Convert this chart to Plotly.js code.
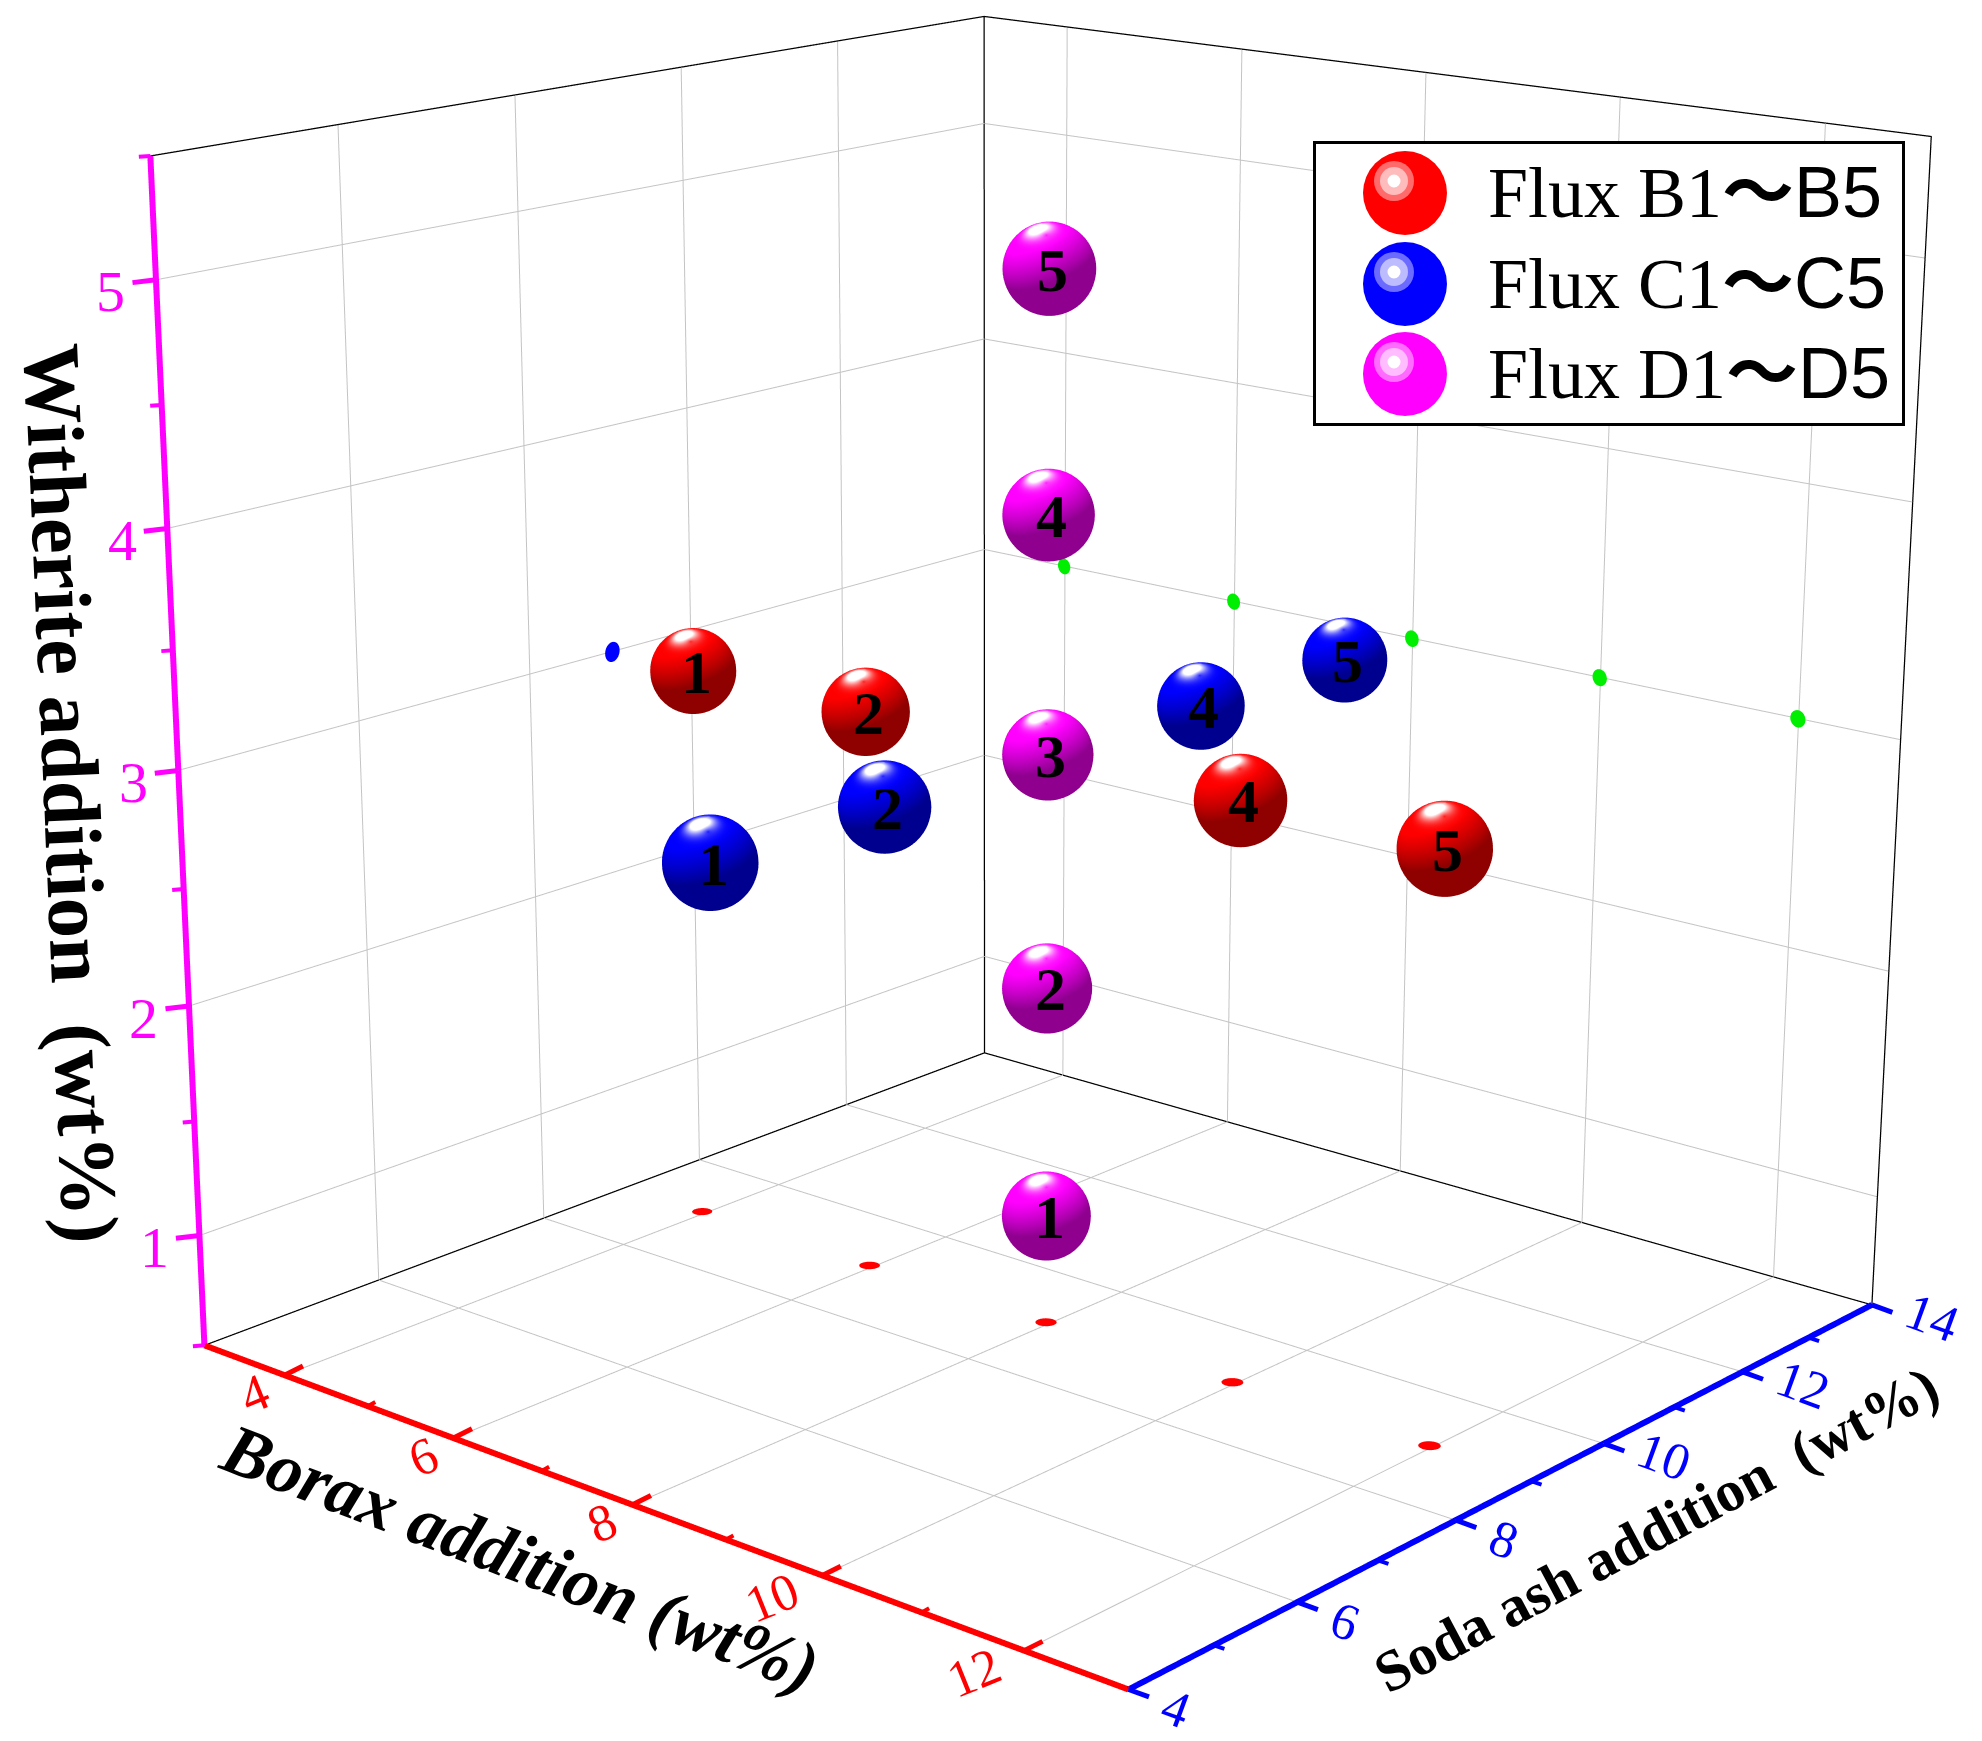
<!DOCTYPE html>
<html><head><meta charset="utf-8">
<script src="https://cdn.plot.ly/plotly-3.0.1.min.js"></script>
<style>html,body{margin:0;padding:0;background:#fff;overflow:hidden}
#g{position:absolute;left:0;top:0;width:1982px;height:1741px}
#leg{position:absolute;left:1313px;top:141px;width:592px;height:285px;z-index:5}</style>
</head><body><div id="g"></div><div id="leg"></div>
<script>
// ---- data ----
const boraxTicks=[4,6,8,10,12];
const sodaTicks=[4,6,8,10,12,14];
const witheriteTicks=[1,2,3,4,5];
const fluxB_borax=[4,6,8,10,12];
const fluxB_soda=[9,9,9,9,9];
const fluxB_witherite=[3,3,3,3,3];
const fluxB_labels=['1','2','','4','5'];
const fluxC_borax=[8,8,8,8,8];
const fluxC_soda=[5,7,9,11,13];
const fluxC_witherite=[3,3,3,3,3];
const fluxC_labels=['1','2','','4','5'];
const fluxD_borax=[8,8,8,8,8];
const fluxD_soda=[9,9,9,9,9];
const fluxD_witherite=[1,2,3,4,5];
const fluxD_labels=['1','2','3','4','5'];
const legendNames=['B','C','D'];
const legendColors=['#ff0000','#0000ff','#ff00ff'];

// ---- view ----
const XR=[3,13],YR=[4,14],ZR=[0.5,5.5];
const ASPECT={x:1.01,y:1,z:1.01};
const FOV=0.3150;
const CENTER={x:-0.0169,y:-0.0517,z:-0.0907};
const EYEDIR={x:0.627,y:-0.7213,z:0.2946}, DIST=4.5;
const R=0.0375;
const SERIF='Liberation Serif';
const EPS=0.012;
const x0=XR[0]+EPS,x1=XR[1]-EPS,y0=YR[0]+EPS,y1=YR[1]-EPS,z0=ZR[0]+EPS,z1=ZR[1]-EPS;

function sphere(xs,ys,zs,f,color,extra,flat){
  const X=[],Y=[],Z=[],I=[],J=[],K=[];
  const n=28,m=44;
  const rx=f*(XR[1]-XR[0])/ASPECT.x*(flat==='x'?0.001:1);
  const ry=f*(YR[1]-YR[0])/ASPECT.y*(flat==='y'?0.001:1);
  const rz=f*(ZR[1]-ZR[0])/ASPECT.z*(flat==='z'?0.001:1);
  xs.forEach((cx,p)=>{
    const b=X.length;
    for(let a=0;a<=n;a++){const t=Math.PI*a/n;
      for(let c=0;c<m;c++){const u=2*Math.PI*c/m;
        X.push(cx+rx*Math.sin(t)*Math.cos(u));
        Y.push(ys[p]+ry*Math.sin(t)*Math.sin(u));
        Z.push(zs[p]+rz*Math.cos(t));}}
    for(let a=0;a<n;a++)for(let c=0;c<m;c++){
      const q=b+a*m+c,r=b+a*m+(c+1)%m,s=q+m,w=r+m;
      I.push(q,r);J.push(s,s);K.push(r,w);}
  });
  return Object.assign({type:'mesh3d',x:X,y:Y,z:Z,i:I,j:J,k:K,color:color,hoverinfo:'skip',showscale:false},extra);
}
const shiny={lighting:{ambient:0.56,diffuse:0.62,specular:2,roughness:0.27,fresnel:0.2},lightposition:{x:-3.8,y:3.29,z:0.9935}};
const matte={lighting:{ambient:1,diffuse:0,specular:0,roughness:1,fresnel:0}};
function seg(x,y,z,c,w){return {type:'scatter3d',mode:'lines',x,y,z,line:{color:c,width:w},hoverinfo:'skip',showlegend:false,connectgaps:false};}
// grid lines on the three back walls, from the tick lists
const gx=[],gy=[],gz=[];
function gl(a,b){gx.push(a[0],b[0],null);gy.push(a[1],b[1],null);gz.push(a[2],b[2],null);}
boraxTicks.forEach(v=>{gl([v,y0,z0],[v,y1,z0]);gl([v,y1,z0],[v,y1,z1]);});
sodaTicks.slice(1,-1).forEach(v=>{gl([x0,v,z0],[x1,v,z0]);gl([x0,v,z0],[x0,v,z1]);});
witheriteTicks.forEach(v=>{gl([x0,y0,v],[x0,y1,v]);gl([x0,y1,v],[x1,y1,v]);});

const traces=[
  seg(gx,gy,gz,'#c4c4c4',2),
  seg([x0,x0,x1,x1],[y0,y1,y1,y1],[z1,z1,z1,z0],'#000',2.5),
  seg([x0,x0,x1],[y0,y1,y1],[z0,z0,z0],'#000',2.5),
  seg([x0,x0],[y1,y1],[z0,z1],'#000',2.5),
  seg([x0,x1],[y0,y0],[z0,z0],'#ff0000',12),
  seg([x1,x1],[y0,y1],[z0,z0],'#0000ff',12),
  seg([x0,x0],[y0,y0],[z0,z1],'#ff00ff',12),
  sphere(fluxB_borax,fluxB_soda,fluxB_borax.map(()=>z0+EPS),R*0.24,'#ff0000',matte,'z'),
  sphere(fluxB_borax,fluxB_borax.map(()=>y1-EPS),fluxB_witherite,R*0.2,'#00ee00',matte,'y'),
  sphere([x0+EPS],[fluxB_soda[0]],[fluxB_witherite[0]],R*0.24,'#0000ff',matte,'x'),
  sphere(fluxB_borax,fluxB_soda,fluxB_witherite,R*0.995,'#ff0000',shiny),
  sphere(fluxC_borax,fluxC_soda,fluxC_witherite,R*0.99,'#0000ff',shiny),
  sphere(fluxD_borax,fluxD_soda,fluxD_witherite,R,'#ff00ff',shiny)
];

// ---- annotations anchored in data space ----
const ann=[];
function label(x,y,z,t,o){ann.push(Object.assign({x,y,z,text:t,showarrow:false,font:{family:SERIF,size:62,color:'#000'}},o||{}));}
function stub(x,y,z,ax,ay,c,w){ann.push({x,y,z,text:'',showarrow:true,arrowhead:0,arrowcolor:c,arrowwidth:w,ax,ay,standoff:0,startstandoff:0});}
[[fluxB_borax,fluxB_soda,fluxB_witherite,fluxB_labels],[fluxC_borax,fluxC_soda,fluxC_witherite,fluxC_labels],[fluxD_borax,fluxD_soda,fluxD_witherite,fluxD_labels]].forEach(s=>{
  s[0].forEach((x,i)=>{ if(s[3][i]) label(x,s[1][i],s[2][i],'<b>'+s[3][i]+'</b>',{xshift:3,yshift:-1}); });
});
const red='#ff0000',blue='#0000ff',mag='#ff00ff';
boraxTicks.forEach(v=>{
  stub(v,y0,z0,20,-10,red,5);
  const wide=v>=10;
  label(v,y0,z0,String(v),{textangle:-22,font:{family:SERIF,size:52,color:red},xshift:wide?-50:-30,yshift:wide?-22:-18});
});
[5,7,9,11].forEach(v=>stub(v,y0,z0,9,-5,red,4));
sodaTicks.forEach(v=>{
  stub(x1,v===4?y0:v===14?y1:v,z0,22,8,blue,5);
  const wide=v>=10;
  label(x1,v===4?y0:v===14?y1:v,z0,String(v),{textangle:20,font:{family:SERIF,size:52,color:blue},xshift:wide?60:48,yshift:wide?-13:-19});
});
[5,7,9,11,13].forEach(v=>stub(x1,v,z0,12,4,blue,4));
witheriteTicks.forEach(v=>{
  stub(x0,y0,v,-25,3,mag,5);
  label(x0,y0,v,String(v),{font:{family:SERIF,size:58,color:mag},xshift:-45,yshift:-12});
});
[1.5,2.5,3.5,4.5,z1,z0].forEach(v=>stub(x0,y0,v,-13,1,mag,4));
label(8,y0,z0,'<b><i>Borax addition (wt%)</i></b>',{textangle:21,font:{family:SERIF,size:71,color:'#000'},xshift:-112,yshift:-54});
label(x1,9,z0,'<b>Soda ash addition  (wt%)</b>',{textangle:-28,font:{family:SERIF,size:58,color:'#000'},xshift:125,yshift:-48});
label(x0,y0,3,'<b>Witherite addition  (wt%)</b>',{textangle:87.5,font:{family:SERIF,size:81,color:'#000'},xshift:-108,yshift:-23});

const axis=(r)=>({range:r,autorange:false,showgrid:false,
  showline:false,zeroline:false,showbackground:false,showspikes:false,showticklabels:false,ticks:'',title:{text:''}});
const eye={x:EYEDIR.x*DIST+CENTER.x,y:EYEDIR.y*DIST+CENTER.y,z:EYEDIR.z*DIST+CENTER.z};
const layout={width:1982,height:1741,margin:{l:0,r:0,t:0,b:0},paper_bgcolor:'#fff',showlegend:false,
  scene:{domain:{x:[0,1],y:[0,1]},aspectmode:'manual',aspectratio:ASPECT,
    xaxis:axis(XR),yaxis:axis(YR),zaxis:axis(ZR),
    camera:{eye,center:CENTER,up:{x:0,y:0,z:1},projection:{type:'perspective'}},
    annotations:ann,dragmode:false}};
Plotly.newPlot('g',traces,layout,{displayModeBar:false}).then(gd=>{
  const s=gd._fullLayout.scene._scene;
  s.glplot.fovy=FOV; s.glplot.redraw&&s.glplot.redraw();
});

// ---- legend ----
const cy=[193,284,374], cx=1405;
const shapes=[{type:'rect',xref:'x',yref:'y',x0:1314.5,x1:1903.5,y0:142.5,y1:424.5,line:{color:'#000',width:3},fillcolor:'#fff'}];
const lann=[];
legendNames.forEach((nm,i)=>{
  const c=(px,dy,r,col)=>shapes.push({type:'circle',xref:'x',yref:'y',x0:px-r,x1:px+r,y0:cy[i]+dy-r,y1:cy[i]+dy+r,line:{width:0},fillcolor:col});
  c(cx,0,42,legendColors[i]);
  c(1394,-12,20,'rgba(255,255,255,0.42)');
  c(1394,-12,14,'rgba(255,255,255,0.55)');
  c(1394,-12,6.5,'#fff');
  lann.push({x:1486,y:cy[i],yshift:8,xanchor:'left',yanchor:'middle',showarrow:false,
    text:'Flux '+nm+'1<span style="font-family:Noto Sans CJK JP"><b>～</b></span><span style="font-family:Liberation Sans">'+nm+'5</span>',
    font:{family:SERIF,size:72,color:'#000'}});
});
Plotly.newPlot('leg',[],{width:592,height:285,margin:{l:0,r:0,t:0,b:0},paper_bgcolor:'#fff',plot_bgcolor:'#fff',showlegend:false,
  xaxis:{range:[1313,1905],visible:false,fixedrange:true},yaxis:{range:[426,141],visible:false,fixedrange:true},
  shapes,annotations:lann},{displayModeBar:false,staticPlot:true});
</script></body></html>
